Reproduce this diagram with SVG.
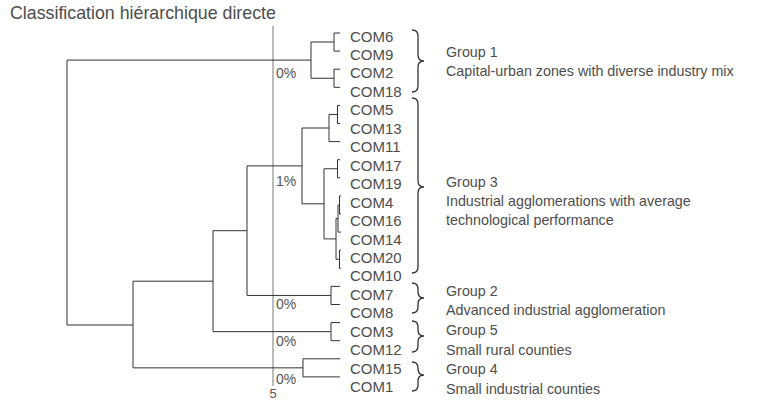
<svg xmlns="http://www.w3.org/2000/svg" width="759" height="401" viewBox="0 0 759 401">
  <style>
    .t { font-family: "Liberation Sans", Arial, sans-serif; fill: #4d4d4d; }
    .title { font-size: 17.8px; }
    .leaf { font-size: 15px; }
    .grp { font-size: 14.3px; }
    .pct { font-size: 14px; fill: #555; }
    .axis { font-size: 13px; fill: #555; }
    .link { fill: none; stroke: #333; stroke-width: 1; }
    .cut { fill: none; stroke: #777; stroke-width: 1; }
    .brace { fill: none; stroke: #333; stroke-width: 1.3; }
  </style>

  <rect width="759" height="401" fill="#fff"/>

  <text id="title" class="t title" x="10" y="19">Classification hiérarchique directe</text>

  <!-- cut level of the tree -->
  <g id="cut-line">
    <path class="cut" d="M273,26 V386"/>
    <text class="t axis" x="273" y="397.5" text-anchor="middle">5</text>
    <text class="t pct" x="276" y="78">0%</text>
    <text class="t pct" x="276" y="186">1%</text>
    <text class="t pct" x="276" y="309">0%</text>
    <text class="t pct" x="276" y="346">0%</text>
    <text class="t pct" x="276" y="384">0%</text>
  </g>

  <!-- dendrogram links -->
  <g id="connectors">
    <!-- group 1 -->
    <path class="link" d="M340,33 H334 V51.1 H340"/>
    <path class="link" d="M340,69.2 H334 V87.3 H340"/>
    <path class="link" d="M334,42 H311 V78.25 H334"/>
    <!-- group 3 -->
    <path class="link" d="M340,105.4 H337.5 V123.5 H340"/>
    <path class="link" d="M337.5,114.45 H329 V141.6 H340"/>
    <path class="link" d="M340,159.7 H337.5 V177.8 H340"/>
    <path class="link" d="M341,195.9 H339.5 V214 H341"/>
    <path class="link" d="M339.5,205 H338 V232.1 H341"/>
    <path class="link" d="M341,250.2 H339.5 V268.3 H341"/>
    <path class="link" d="M338,218.5 H336 V259.25 H339.5"/>
    <path class="link" d="M337.5,168.75 H324 V238.9 H336"/>
    <path class="link" d="M329,128 H302 V203.8 H324"/>
    <!-- group 2 -->
    <path class="link" d="M340,286.4 H331 V304.5 H340"/>
    <path class="link" d="M302,165.9 H247 V295.45 H331"/>
    <!-- group 5 -->
    <path class="link" d="M340,322.6 H331 V340.7 H340"/>
    <path class="link" d="M247,230.7 H213 V331.65 H331"/>
    <!-- group 4 -->
    <path class="link" d="M340,358.8 H303 V376.9 H340"/>
    <path class="link" d="M213,281.2 H133 V367.85 H303"/>
    <!-- root -->
    <path class="link" d="M311,60.1 H67 V325 H133"/>
  </g>

  <!-- leaves -->
  <g id="leaves" class="t leaf">
    <text id="COM6" x="350" y="41.5">COM6</text>
    <text id="COM9" x="350" y="60">COM9</text>
    <text id="COM2" x="350" y="78.4">COM2</text>
    <text id="COM18" x="350" y="96.9">COM18</text>
    <text id="COM5" x="350" y="115.3">COM5</text>
    <text id="COM13" x="350" y="133.8">COM13</text>
    <text id="COM11" x="350" y="152.2">COM11</text>
    <text id="COM17" x="350" y="170.7">COM17</text>
    <text id="COM19" x="350" y="189.1">COM19</text>
    <text id="COM4" x="350" y="207.6">COM4</text>
    <text id="COM16" x="350" y="226">COM16</text>
    <text id="COM14" x="350" y="244.5">COM14</text>
    <text id="COM20" x="350" y="262.9">COM20</text>
    <text id="COM10" x="350" y="281.4">COM10</text>
    <text id="COM7" x="350" y="299.8">COM7</text>
    <text id="COM8" x="350" y="318.3">COM8</text>
    <text id="COM3" x="350" y="336.7">COM3</text>
    <text id="COM12" x="350" y="355.2">COM12</text>
    <text id="COM15" x="350" y="373.6">COM15</text>
    <text id="COM1" x="350" y="392.1">COM1</text>
  </g>

  <!-- group braces and captions -->
  <g id="group1">
    <path class="brace" d="M412,30 Q418,30 418,36 V55 Q418,61 424,61 Q418,61 418,67 V86 Q418,92 412,92"/>
    <text class="t grp" x="446" y="57">Group 1</text>
    <text class="t grp" x="446" y="76">Capital-urban zones with diverse industry mix</text>
  </g>
  <g id="group3">
    <path class="brace" d="M412,98 Q418,98 418,104 V181 Q418,187 424,187 Q418,187 418,193 V267 Q418,273 412,273"/>
    <text class="t grp" x="446" y="187">Group 3</text>
    <text class="t grp" x="446" y="206">Industrial agglomerations with average</text>
    <text class="t grp" x="446" y="225">technological performance</text>
  </g>
  <g id="group2">
    <path class="brace" d="M412,283 Q418,283 418,289 V292 Q418,298 424,298 Q418,298 418,304 V307 Q418,313 412,313"/>
    <text class="t grp" x="446" y="296">Group 2</text>
    <text class="t grp" x="446" y="315">Advanced industrial agglomeration</text>
  </g>
  <g id="group5">
    <path class="brace" d="M412,321 Q418,321 418,327 V330 Q418,336 424,336 Q418,336 418,342 V346 Q418,352 412,352"/>
    <text class="t grp" x="446" y="335">Group 5</text>
    <text class="t grp" x="446" y="355">Small rural counties</text>
  </g>
  <g id="group4">
    <path class="brace" d="M412,362 Q418,362 418,368 V369 Q418,375 424,375 Q418,375 418,381 V385 Q418,391 412,391"/>
    <text class="t grp" x="446" y="374">Group 4</text>
    <text class="t grp" x="446" y="394">Small industrial counties</text>
  </g>
</svg>
